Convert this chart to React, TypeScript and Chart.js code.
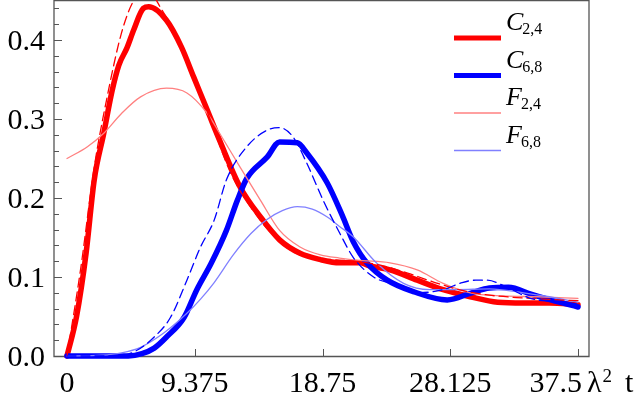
import React, { useEffect, useRef } from "react";
import { Chart, registerables } from "chart.js";

Chart.register(...registerables);

// ---- axis ticks ----
const xTicks = [0, 9.375, 18.75, 28.125, 37.5];
const xTickLabels = ["0", "9.375", "18.75", "28.125", "37.5"];
const yTicks = [0, 0.1, 0.2, 0.3, 0.4];
const yTickLabels = ["0.0", "0.1", "0.2", "0.3", "0.4"];
const yMinorStep = 0.02;

// ---- C_{2,4} (thick red) ----
const c24X = [0, 0.7, 1.4, 2.0, 2.7, 3.3, 3.8, 4.4, 4.9, 5.6, 6.0, 7.3, 8.4, 9.3, 10.3, 11.2, 12.7, 14.2, 15.6, 17.1, 18.6, 20.0, 21.5, 22.2, 23.7, 25.7, 27.6, 29.6, 31.6, 33.5, 35.4, 37.5];
const c24Y = [0, 0.05, 0.13, 0.223, 0.282, 0.335, 0.368, 0.39, 0.413, 0.44, 0.442, 0.425, 0.391, 0.353, 0.311, 0.273, 0.214, 0.176, 0.147, 0.13, 0.122, 0.118, 0.118, 0.114, 0.109, 0.096, 0.084, 0.075, 0.068, 0.067, 0.067, 0.065];

// ---- C_{6,8} (thick blue) ----
const c68X = [0, 4.5, 5.5, 6.4, 7.3, 8.6, 9.5, 10.6, 11.7, 12.5, 13.2, 14.7, 15.6, 16.9, 17.6, 19.1, 20.2, 21.0, 22.0, 23.5, 25.5, 27.9, 29.7, 31.0, 32.4, 34.1, 35.5, 37.5];
const c68Y = [0, 0, 0.003, 0.01, 0.024, 0.049, 0.083, 0.118, 0.159, 0.197, 0.225, 0.252, 0.271, 0.27, 0.257, 0.219, 0.178, 0.145, 0.118, 0.096, 0.081, 0.071, 0.08, 0.086, 0.087, 0.078, 0.071, 0.062];

// ---- F_{2,4} (thin light red) ----
const f24X = [0, 1.5, 2.7, 4.0, 5.4, 7.3, 8.8, 10.3, 11.2, 12.7, 14.2, 15.6, 17.1, 18.6, 20.0, 21.5, 23.7, 25.7, 27.6, 29.6, 32.0, 34.5, 37.5];
const f24Y = [0.25, 0.265, 0.282, 0.307, 0.328, 0.339, 0.333, 0.307, 0.282, 0.239, 0.197, 0.159, 0.138, 0.128, 0.124, 0.121, 0.118, 0.109, 0.092, 0.08, 0.076, 0.075, 0.073];

// ---- F_{6,8} (thin light blue) ----
const f68X = [0, 2.5, 4.0, 5.4, 7.1, 8.8, 9.8, 10.8, 12.2, 13.5, 14.7, 15.8, 16.9, 18.0, 19.1, 20.0, 21.0, 22.7, 24.7, 26.6, 28.6, 31.0, 33.5, 35.4, 37.5];
const f68Y = [0, 0.001, 0.004, 0.011, 0.029, 0.054, 0.072, 0.093, 0.128, 0.155, 0.173, 0.184, 0.189, 0.186, 0.176, 0.164, 0.151, 0.118, 0.092, 0.084, 0.084, 0.085, 0.08, 0.075, 0.068];

// ---- dashed red (unlabelled) ----
const dRedX = [0, 1.0, 2.0, 2.9, 4.0, 4.9, 5.9, 6.9, 8.0, 9.3, 10.5, 12.0, 13.5, 15.0, 16.5, 18.0, 19.5, 21.0, 23.0, 25.0, 27.0, 29.0, 31.0, 33.0, 35.0, 37.5];
const dRedY = [0, 0.11, 0.239, 0.324, 0.409, 0.45, 0.463, 0.44, 0.405, 0.352, 0.3, 0.232, 0.188, 0.155, 0.133, 0.124, 0.122, 0.12, 0.115, 0.105, 0.093, 0.083, 0.077, 0.074, 0.072, 0.07];

// ---- dashed blue (unlabelled) ----
const dBlueX = [0, 3.5, 5.0, 6.4, 7.6, 8.8, 9.8, 10.8, 11.7, 13.2, 14.7, 15.6, 16.6, 17.6, 18.8, 20.0, 21.0, 22.5, 23.7, 25.7, 27.6, 29.0, 30.0, 30.8, 32.3, 34.0, 35.5, 37.5];
const dBlueY = [0, 0, 0.006, 0.024, 0.049, 0.096, 0.138, 0.172, 0.223, 0.265, 0.286, 0.289, 0.277, 0.244, 0.197, 0.156, 0.125, 0.1, 0.092, 0.08, 0.084, 0.093, 0.096, 0.096, 0.087, 0.073, 0.069, 0.066];

// ---- legend ----
const legendLetters = ["C", "C", "F", "F"];
const legendSubs = ["2,4", "6,8", "2,4", "6,8"];

const pts = (xs: number[], ys: number[]) => xs.map((x, i) => ({ x, y: ys[i] }));

const SERIF = "'Liberation Serif', 'Times New Roman', serif";

const decorPlugin = {
  id: "decor",
  beforeDatasetsDraw(chart: any) {
    const { ctx, chartArea: a, scales } = chart;
    const xs = scales.x;
    const ys = scales.y;
    ctx.save();
    ctx.strokeStyle = "#555";
    ctx.lineWidth = 1.3;
    ctx.beginPath();
    ctx.moveTo(a.left, a.top - 0.5);
    ctx.lineTo(a.right, a.top - 0.5);
    ctx.lineTo(a.right, a.bottom + 0.5);
    ctx.lineTo(a.left, a.bottom + 0.5);
    ctx.closePath();
    ctx.stroke();
    ctx.lineWidth = 1;
    // y ticks
    for (let k = 0; k * yMinorStep <= ys.max + 1e-9; k++) {
      const v = k * yMinorStep;
      const py = Math.round(ys.getPixelForValue(v)) + 0.5;
      const major = yTicks.some((t) => Math.abs(t - v) < 1e-9);
      ctx.beginPath();
      ctx.moveTo(a.left, py);
      ctx.lineTo(a.left + (major ? 8 : 5), py);
      ctx.stroke();
    }
    // x ticks
    xTicks.forEach((v) => {
      const px = Math.round(xs.getPixelForValue(v)) + 0.5;
      ctx.beginPath();
      ctx.moveTo(px, a.bottom);
      ctx.lineTo(px, a.bottom - 7);
      ctx.stroke();
    });
    ctx.restore();
  },
  afterDraw(chart: any) {
    const { ctx, chartArea: a, scales } = chart;
    const xs = scales.x;
    const ys = scales.y;
    ctx.save();
    ctx.fillStyle = "#000";
    ctx.font = `30px ${SERIF}`;
    ctx.textBaseline = "alphabetic";
    // y labels
    ctx.textAlign = "right";
    yTicks.forEach((v, i) => {
      const py = ys.getPixelForValue(v);
      ctx.fillText(yTickLabels[i], a.left - 9, py + 10);
    });
    // x labels
    xTicks.forEach((v, i) => {
      const px = xs.getPixelForValue(v);
      if (i === xTicks.length - 1) {
        ctx.textAlign = "right";
        ctx.fillText(xTickLabels[i], px + 4, 392);
      } else {
        ctx.textAlign = "center";
        ctx.fillText(xTickLabels[i], px, 392);
      }
    });
    // axis label  λ² t
    const endPx = xs.getPixelForValue(xTicks[xTicks.length - 1]);
    ctx.textAlign = "left";
    ctx.fillText("λ", endPx + 9, 392);
    const lw = ctx.measureText("λ").width;
    ctx.font = `19px ${SERIF}`;
    ctx.fillText("2", endPx + 9 + lw + 1, 382);
    ctx.font = `30px ${SERIF}`;
    ctx.fillText("t", endPx + 47, 392);

    // legend
    legendLetters.forEach((letter, i) => {
      const ds = chart.data.datasets[i];
      const ly = 38 + i * 37.5;
      ctx.strokeStyle = ds.borderColor;
      ctx.lineWidth = Math.min(ds.borderWidth, 5);
      ctx.beginPath();
      ctx.moveTo(454, ly);
      ctx.lineTo(501, ly);
      ctx.stroke();
      ctx.font = `italic 26px ${SERIF}`;
      ctx.textAlign = "left";
      ctx.fillText(letter, 506, ly - 8);
      const w = ctx.measureText(letter).width;
      ctx.font = `16px ${SERIF}`;
      ctx.fillText(legendSubs[i], 506 + w - 1, ly - 4);
    });
    ctx.restore();
  },
};

export default function App() {
  const ref = useRef<HTMLCanvasElement>(null);
  useEffect(() => {
    document.body.style.margin = "0";
    const clip = { left: 5, top: 1, right: 5, bottom: 4 };
    const chart = new Chart(ref.current as HTMLCanvasElement, {
      type: "line",
      data: {
        datasets: [
          { label: "C2,4", data: pts(c24X, c24Y), borderColor: "#ff0000", borderWidth: 5.5, order: 6, clip },
          { label: "C6,8", data: pts(c68X, c68Y), borderColor: "#0000ff", borderWidth: 5.5, order: 5, clip },
          { label: "F2,4", data: pts(f24X, f24Y), borderColor: "#ff8080", borderWidth: 1.3, order: 4, clip },
          { label: "F6,8", data: pts(f68X, f68Y), borderColor: "#8080ff", borderWidth: 1.3, order: 3, clip },
          { label: "", data: pts(dRedX, dRedY), borderColor: "#ff0000", borderWidth: 1.3, borderDash: [9, 5], order: 2, clip },
          { label: "", data: pts(dBlueX, dBlueY), borderColor: "#0000ff", borderWidth: 1.3, borderDash: [9, 5], order: 1, clip },
        ] as any,
      },
      options: {
        responsive: false,
        animation: false,
        events: [],
        layout: { padding: { left: 54, right: 47, top: 1, bottom: 49 } },
        elements: {
          point: { radius: 0 },
          line: { cubicInterpolationMode: "monotone", fill: false, borderCapStyle: "round", borderJoinStyle: "round" },
        },
        scales: {
          x: { type: "linear", display: false, min: -0.954, max: 38.307 },
          y: { type: "linear", display: false, min: 0, max: 0.4494 },
        },
        plugins: { legend: { display: false }, tooltip: { enabled: false } },
      },
      plugins: [decorPlugin],
    });
    return () => chart.destroy();
  }, []);
  return (
    <div style={{ width: 636, height: 405, background: "#fff" }}>
      <canvas ref={ref} width={636} height={405} style={{ display: "block", width: 636, height: 405 }} />
    </div>
  );
}
